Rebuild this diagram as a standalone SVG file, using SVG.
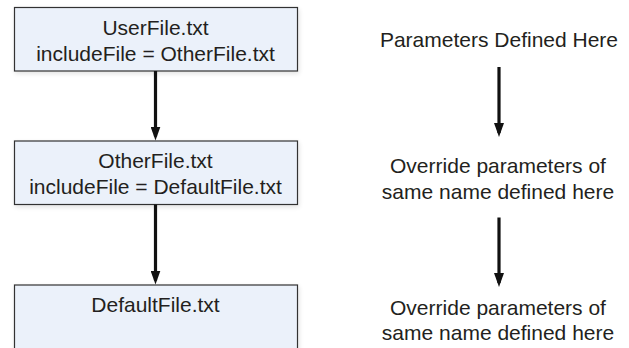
<svg xmlns="http://www.w3.org/2000/svg" width="629" height="348" viewBox="0 0 629 348">
<style>
.box{fill:#ebf1fa;stroke:#333333;stroke-width:1.2}
.t{font-family:"Liberation Sans",Arial,Helvetica,sans-serif;font-size:21px;fill:#231f20;text-anchor:middle}
.c{stroke:#111111;stroke-width:3.2;fill:none}
</style>
<defs>
<marker id="ah" markerUnits="userSpaceOnUse" markerWidth="14" markerHeight="10" refX="10" refY="5" orient="auto" viewBox="0 0 14 10">
<path d="M0,0 L14,5 L0,10 Z" fill="#111111"/>
</marker>
<filter id="sh" x="-10%" y="-20%" width="120%" height="140%">
<feGaussianBlur in="SourceAlpha" stdDeviation="2.5"/>
<feOffset dx="1" dy="2" result="b"/>
<feComponentTransfer><feFuncA type="linear" slope="0.12"/></feComponentTransfer>
<feMerge><feMergeNode/><feMergeNode in="SourceGraphic"/></feMerge>
</filter>
</defs>
<g id="node-user">
<rect class="box" x="14.5" y="7.5" width="283" height="63.5" filter="url(#sh)"/>
<text class="t" x="155.5" y="35">UserFile.txt</text>
<text class="t" x="155.5" y="61">includeFile = OtherFile.txt</text>
</g>
<g id="node-other">
<rect class="box" x="14.5" y="141" width="283" height="63.5" filter="url(#sh)"/>
<text class="t" x="155.5" y="168">OtherFile.txt</text>
<text class="t" x="155.5" y="194">includeFile = DefaultFile.txt</text>
</g>
<g id="node-default">
<rect class="box" x="14.5" y="285" width="283" height="80" filter="url(#sh)"/>
<text class="t" x="155.5" y="312">DefaultFile.txt</text>
</g>
<g id="label-params">
<text class="t" x="499" y="47">Parameters Defined Here</text>
</g>
<g id="label-override1">
<text class="t" x="498" y="173">Override parameters of</text>
<text class="t" x="498" y="199">same name defined here</text>
</g>
<g id="label-override2">
<text class="t" x="498" y="315">Override parameters of</text>
<text class="t" x="498" y="340">same name defined here</text>
</g>
<g id="connectors">
<line class="c" x1="155.5" y1="71" x2="155.5" y2="136.5" marker-end="url(#ah)"/>
<line class="c" x1="155.5" y1="204.5" x2="155.5" y2="280.5" marker-end="url(#ah)"/>
<line class="c" x1="499" y1="67" x2="499" y2="133" marker-end="url(#ah)"/>
<line class="c" x1="499" y1="217.5" x2="499" y2="283" marker-end="url(#ah)"/>
</g>
</svg>
